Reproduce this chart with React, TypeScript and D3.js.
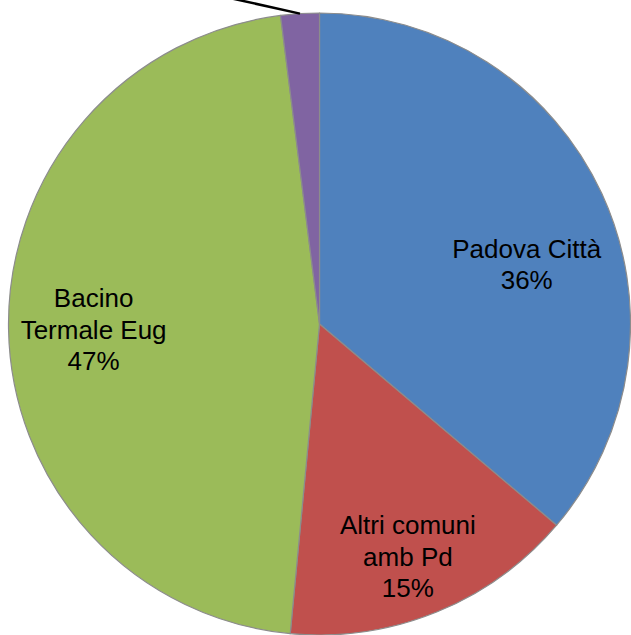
import { useEffect, useRef } from 'react';
import * as d3 from 'd3';

// slice values (percent share), clockwise from 12 o'clock
const names = ['Padova Città', 'Altri comuni amb Pd', 'Bacino Termale Eug', 'Altro'];
const values = [36.2, 15.3, 46.5, 2.0];
const labelLines = [['Padova Città'], ['Altri comuni', 'amb Pd'], ['Bacino', 'Termale Eug'], []];
const colors = ['#4F81BD', '#C0504D', '#9BBB59', '#8064A2'];

const WIDTH = 631;
const HEIGHT = 635;
const CX = 319.5;
const CY = 324;
const R = 311;
const FONT_SIZE = 26;
const LINE_H = 31.5;

// Excel's "best fit" shifts the labels a bit off the centroid
const NUDGE: Record<string, [number, number]> = {
  'Padova Città': [4, 34],
  'Altri comuni amb Pd': [4, 25],
  'Bacino Termale Eug': [-2, 2],
};

export default function App() {
  const ref = useRef<SVGSVGElement | null>(null);

  useEffect(() => {
    if (!ref.current) return;
    const svg = d3.select(ref.current);
    svg.selectAll('*').remove();

    const total = d3.sum(values);
    const pie = d3
      .pie<number>()
      .sort(null)
      .value((d) => d);
    const arcs = pie(values);
    const arc = d3.arc<d3.PieArcDatum<number>>().innerRadius(0).outerRadius(R);
    const labelArc = d3
      .arc<d3.PieArcDatum<number>>()
      .innerRadius(R * 0.72)
      .outerRadius(R * 0.72);

    const g = svg.append('g').attr('transform', `translate(${CX},${CY})`);

    g.selectAll('path.slice')
      .data(arcs)
      .enter()
      .append('path')
      .attr('class', 'slice')
      .attr('d', arc)
      .attr('fill', (_, i) => colors[i])
      .attr('stroke', '#8c8c8c')
      .attr('stroke-width', 1.2)
      .attr('stroke-linejoin', 'round');

    arcs.forEach((a, i) => {
      const lines = labelLines[i];
      if (lines.length === 0) {
        // small slice: label sits outside the picture, only its leader shows
        const mid = (a.startAngle + a.endAngle) / 2;
        const x0 = Math.sin(mid) * R;
        const y0 = -Math.cos(mid) * R;
        g.append('line')
          .attr('x1', x0)
          .attr('y1', y0)
          .attr('x2', x0 - 90)
          .attr('y2', y0 - 20)
          .attr('stroke', '#000')
          .attr('stroke-width', 2.5);
        return;
      }
      const all = [...lines, `${Math.round((a.data / total) * 100)}%`];
      const [cx, cy] = labelArc.centroid(a);
      const [nx, ny] = NUDGE[names[i]] ?? [0, 0];
      const blockH = (all.length - 1) * LINE_H + FONT_SIZE * 0.72;
      const firstBase = cy + ny - blockH / 2 + FONT_SIZE * 0.72;
      const t = g
        .append('text')
        .attr('text-anchor', 'middle')
        .attr('font-family', '"Liberation Sans", Arial, sans-serif')
        .attr('font-size', FONT_SIZE)
        .attr('fill', '#000');
      all.forEach((line, k) => {
        t.append('tspan')
          .attr('x', cx + nx)
          .attr('y', firstBase + k * LINE_H)
          .text(line);
      });
    });
  }, []);

  return (
    <svg
      ref={ref}
      width={WIDTH}
      height={HEIGHT}
      style={{ position: 'absolute', left: 0, top: 0, background: '#fff' }}
    />
  );
}
